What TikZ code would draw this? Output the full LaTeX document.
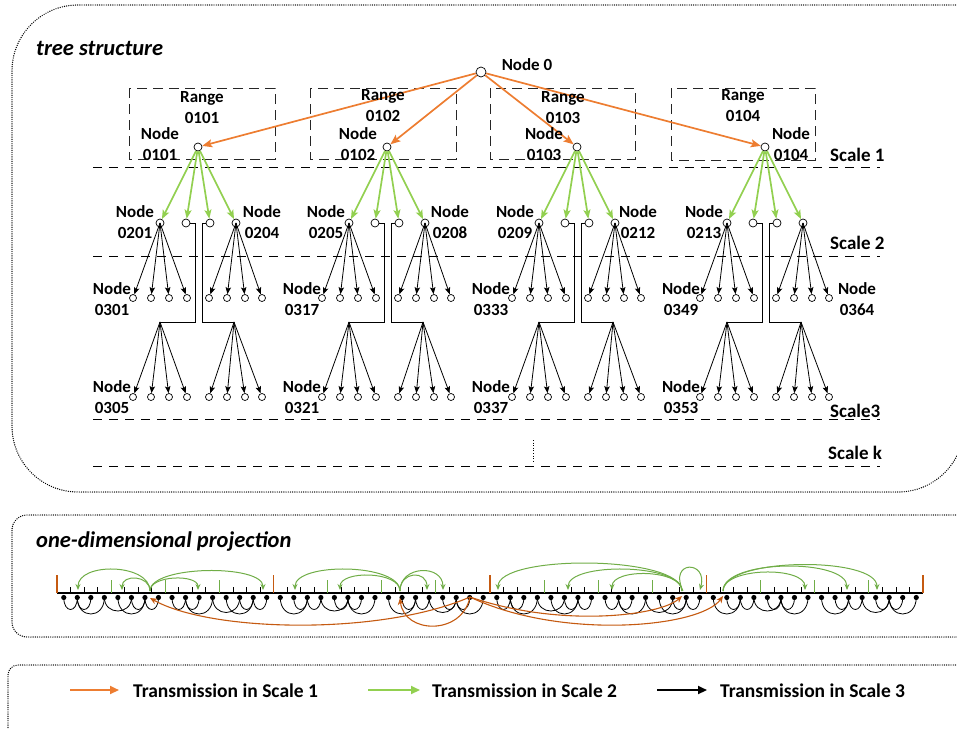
\documentclass[tikz,border=0pt]{standalone}
\usepackage{fontspec}
\setmainfont{Carlito}
\usetikzlibrary{arrows.meta,calc}
\definecolor{treeorange}{HTML}{ED7D31}
\definecolor{treegreen}{HTML}{92D050}
\definecolor{projorange}{HTML}{C55A11}
\definecolor{projgreen}{HTML}{70AD47}
\begin{document}
\begin{tikzpicture}[x=1pt,y=-1pt,
  lbl/.style={font=\fontsize{17}{21}\selectfont\bfseries, align=center, inner sep=0},
  scalelbl/.style={font=\fontsize{19}{22}\selectfont\bfseries, anchor=west, inner sep=0},
  titlelbl/.style={font=\fontsize{22.5}{26}\selectfont\bfseries\itshape, anchor=west, inner sep=0},
  leglbl/.style={font=\fontsize{19.5}{22}\selectfont\bfseries, anchor=west, inner sep=0},
  circ/.style={circle,draw,line width=0.7pt,inner sep=0,minimum size=8pt},
  circsm/.style={circle,draw,line width=0.7pt,inner sep=0,minimum size=7pt},
  orarrow/.style={draw=treeorange,line width=1.7pt,-{Stealth[length=10pt,width=8pt,inset=2pt]}},
  grarrow/.style={draw=treegreen,line width=1.7pt,-{Stealth[length=9pt,width=7pt,inset=2pt]}},
  blarrow/.style={draw=black,line width=0.8pt,-{Stealth[length=7pt,width=5.5pt,inset=1.5pt]}},
  scaleline/.style={dash pattern=on 9pt off 7pt, line width=1pt},
  rangebox/.style={dash pattern=on 10pt off 6pt, line width=1pt, draw=black!85},
  panel/.style={dash pattern=on 0pt off 2.2pt, line cap=round, line width=1.4pt},
  pgarrow/.style={draw=projgreen,line width=1pt,-{Stealth[length=6pt,width=5pt]}},
  poarrow/.style={draw=projorange,line width=1.1pt,-{Stealth[length=7pt,width=6pt]}},
  legor/.style={draw=treeorange,line width=2pt,-{Triangle[length=9pt,width=8pt]}},
  leggr/.style={draw=treegreen,line width=2pt,-{Triangle[length=9pt,width=8pt]}},
  legbl/.style={draw=black,line width=2pt,-{Triangle[length=9pt,width=8pt]}},
]
\useasboundingbox (0,0) rectangle (957,728);

% ---------- panels ----------
\draw[panel, rounded corners=66pt] (995,5) -- (12,5) -- (12,492) -- (964,492) -- (964,300);
\draw[panel, rounded corners=15pt] (995,515) -- (12,515) -- (12,637) -- (995,637);
\draw[panel, rounded corners=10pt] (995,665) -- (8,665) -- (8,745);

\node[titlelbl] (title1) at (36,48) {tree structure};
\node[titlelbl] (title2) at (36,541) {one-dimensional projection};

% ---------- range boxes ----------
\draw[rangebox] (129,88) rectangle (275,159);
\draw[rangebox] (310,88) rectangle (456,159);
\draw[rangebox] (490,88) rectangle (635,159);
\draw[rangebox] (671,88) rectangle (815,160);

% ---------- scale lines ----------
\draw[scaleline] (93,167) -- (880,167);
\draw[scaleline] (93,256) -- (880,256);
\draw[scaleline] (93,419) -- (880,419);
\draw[scaleline] (93,466) -- (880,466);
\draw[line width=1pt, dash pattern=on 1pt off 1.6pt] (533,440) -- (533,463);
\node[scalelbl] (sc1) at (830,155) {Scale 1};
\node[scalelbl] (sc2) at (830,243) {Scale 2};
\node[scalelbl] (sc3) at (830,411) {Scale3};
\node[scalelbl] (sck) at (828,453) {Scale k};

% ---------- root ----------
\node[circ, minimum size=10pt] (n0) at (481,72) {};
\node[lbl] (n0l) at (527,65) {Node 0};

% ---------- clusters ----------
\foreach \c/\i in {198/1,387/2,577/3,765/4}{
  \node[circ] (s1-\i) at (\c,147) {};
  \draw[orarrow] (n0) -- (s1-\i);
  \foreach \o/\k in {-38/1,-12/2,12/3,38/4}{
    \node[circ] (s2-\i-\k) at ({\c+(\o)},223) {};
    \draw[grarrow] (s1-\i) -- (s2-\i-\k);
  }
  \foreach \o/\k in {-65/1,-47/2,-29/3,-11/4,11/5,29/6,47/7,64/8}{
    \node[circsm] (a3-\i-\k) at ({\c+(\o)},298) {};
    \node[circsm] (b3-\i-\k) at ({\c+(\o)},397) {};
  }
  \coordinate (bl1-\i) at ({\c-3},223);
  \coordinate (bl2-\i) at ({\c-3},322);
  \coordinate (apl-\i) at ({\c-38},322);
  \coordinate (br1-\i) at ({\c+4},223);
  \coordinate (br2-\i) at ({\c+4},322);
  \coordinate (apr-\i) at ({\c+36},322);
  \draw[line width=0.8pt] (s2-\i-2.east) -- (bl1-\i) -- (bl2-\i) -- (apl-\i);
  \draw[line width=0.8pt] (s2-\i-3.west) -- (br1-\i) -- (br2-\i) -- (apr-\i);
  \foreach \k in {1,2,3,4}{
    \draw[blarrow] (s2-\i-1.center) -- (a3-\i-\k);
    \draw[blarrow] (apl-\i) -- (b3-\i-\k);
  }
  \foreach \k in {5,6,7,8}{
    \draw[blarrow] (s2-\i-4.center) -- (a3-\i-\k);
    \draw[blarrow] (apr-\i) -- (b3-\i-\k);
  }
}

% ---------- tree labels ----------
\node[lbl] (r1) at (202,108) {Range\\0101};
\node[lbl] (r2) at (383,106) {Range\\0102};
\node[lbl] (r3) at (563,108) {Range\\0103};
\node[lbl] (r4) at (743,106) {Range\\0104};
\node[lbl] (l0101) at (160,144) {Node\\0101};
\node[lbl] (l0102) at (358,144) {Node\\0102};
\node[lbl] (l0103) at (544,144) {Node\\0103};
\node[lbl] (l0104) at (791,144) {Node\\0104};

\node[lbl] (l0201) at (135,222) {Node\\0201};
\node[lbl] (l0204) at (262,222) {Node\\0204};
\node[lbl] (l0205) at (326,222) {Node\\0205};
\node[lbl] (l0208) at (450,222) {Node\\0208};
\node[lbl] (l0209) at (515,222) {Node\\0209};
\node[lbl] (l0212) at (638,222) {Node\\0212};
\node[lbl] (l0213) at (704,222) {Node\\0213};

\node[lbl] (l0301) at (112,299) {Node\\0301};
\node[lbl] (l0317) at (302,299) {Node\\0317};
\node[lbl] (l0333) at (491,299) {Node\\0333};
\node[lbl] (l0349) at (681,299) {Node\\0349};
\node[lbl] (l0364) at (857,299) {Node\\0364};

\node[lbl] (l0305) at (112,397) {Node\\0305};
\node[lbl] (l0321) at (302,397) {Node\\0321};
\node[lbl] (l0337) at (491,397) {Node\\0337};
\node[lbl] (l0353) at (681,397) {Node\\0353};

% ---------- projection ----------
\coordinate (pbs) at (57,593);
\coordinate (pbe) at (923,593);
\foreach \r in {0,...,3}{
  \pgfmathsetmacro{\R}{57+216.5*\r}
  \foreach \k in {0,...,3}{
    \pgfmathsetmacro{\A}{\R+54.125*\k}
    \foreach \j in {0,...,3}{
      \coordinate (d-\r-\k-\j) at ({\A+6.77+13.53*\j},597.5);
    }
  }
}
% black arcs (scale 3)
\foreach \r in {0,...,3}{
  \foreach \k in {0,...,3}{
    \pgfmathtruncatemacro{\srcj}{mod(\r+\k,2)+1}
    \foreach \j in {0,...,3}{
      \ifnum\j=\srcj\relax\else
        \pgfmathsetmacro{\hh}{10+6*abs(\j-\srcj)}
        \draw[line width=0.8pt] (d-\r-\k-\srcj) .. controls +(0,\hh) and +(0,\hh) .. (d-\r-\k-\j);
      \fi
    }
  }
}
% extra cross arcs
\foreach \r in {0,...,3}{
  \draw[line width=0.8pt] (d-\r-0-3) .. controls +(0,18) and +(0,18) .. (d-\r-1-1);
  \draw[line width=0.8pt] (d-\r-2-3) .. controls +(0,20) and +(0,20) .. (d-\r-3-1);
}
\draw[line width=1.2pt] (pbs) -- (pbe);
\foreach \r in {0,...,3}{
  \pgfmathsetmacro{\R}{57+216.5*\r}
  \foreach \k in {1,2,3}{
    \draw[projgreen,line width=1.2pt] ({\R+54.125*\k},580) -- ({\R+54.125*\k},593);
  }
  \foreach \k in {0,...,3}{
    \foreach \j in {1,2,3}{
      \draw[line width=0.8pt] ({\R+54.125*\k+13.53*\j},587) -- ({\R+54.125*\k+13.53*\j},593);
    }
  }
}
\foreach \x in {57,273.5,490,706.5,923}{
  \draw[projorange,line width=1.2pt] (\x,575) -- (\x,593);
}
\foreach \r in {0,...,3}{
  \foreach \k in {0,...,3}{
    \foreach \j in {0,...,3}{
      \fill (d-\r-\k-\j) circle (2.6);
    }
  }
}
% green arcs (scale 2)
\foreach \sx/\tx/\hh in {150/78/28, 150/122/16, 150/198/16, 150/263/26,
  400/295/28, 400/340/20, 400/427/20, 400/443/26,
  682/498/36, 682/568/28, 682/612/22,
  723/805/24, 723/847/32, 723/877/34}{
  \coordinate (ga) at (\sx,591);
  \coordinate (gb) at (\tx,590);
  \draw[pgarrow] (ga) .. controls +(0,-\hh) and +(0,-\hh) .. (gb);
}
\coordinate (gl1) at (683,591);
\coordinate (gl2) at (700,590);
\draw[pgarrow] (gl1) .. controls (668,560) and (708,560) .. (gl2);
% orange arcs (scale 1)
\coordinate (proot) at (470,597);
\coordinate (pt1) at (150,598);
\coordinate (pt2) at (400,598);
\coordinate (pt3) at (682,596);
\coordinate (pt4) at (723,596);
\draw[poarrow] (proot) .. controls (380,636) and (210,632) .. (pt1);
\draw[poarrow] (proot) .. controls (462,636) and (404,634) .. (pt2);
\draw[poarrow] (proot) .. controls (560,628) and (660,616) .. (pt3);
\draw[poarrow] (proot) .. controls (560,640) and (700,628) .. (pt4);

% ---------- legend ----------
\coordinate (lo1) at (70,690);  \coordinate (lo2) at (119,690);
\coordinate (lg1) at (368,690); \coordinate (lg2) at (420,690);
\coordinate (lb1) at (657,690); \coordinate (lb2) at (707,690);
\draw[legor] (lo1) -- (lo2);
\draw[leggr] (lg1) -- (lg2);
\draw[legbl] (lb1) -- (lb2);
\node[leglbl] (t1) at (133,691) {Transmission in Scale 1};
\node[leglbl] (t2) at (432,691) {Transmission in Scale 2};
\node[leglbl] (t3) at (720,691) {Transmission in Scale 3};
\end{tikzpicture}
\end{document}
